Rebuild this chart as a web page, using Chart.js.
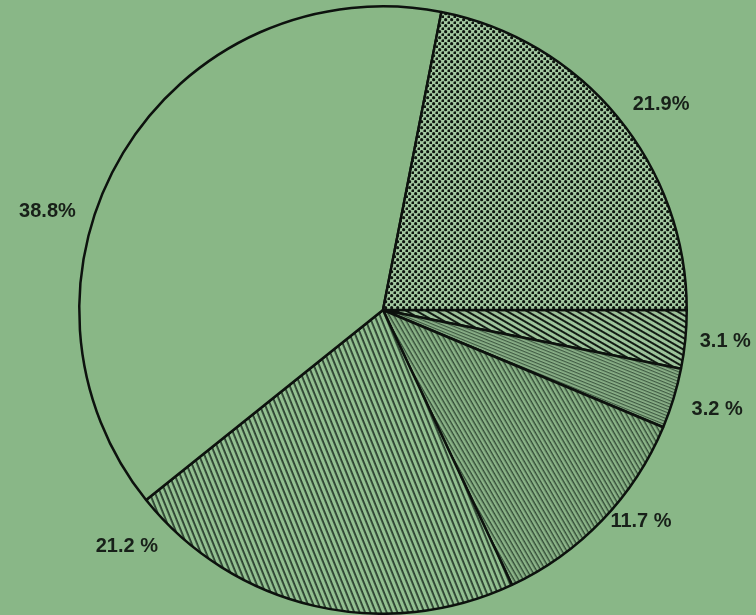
<!DOCTYPE html>
<html>
<head>
<meta charset="utf-8">
<script src="https://cdn.jsdelivr.net/npm/chart.js@4/dist/chart.umd.min.js"></script>
<style>
  html, body { margin: 0; padding: 0; background: #89b787; }
  #wrap { width: 756px; height: 615px; position: relative; }
</style>
</head>
<body>
<div id="wrap"><canvas id="pie"></canvas></div>
<script>
// slices clockwise from 3 o'clock
const labels = ['3.1 %', '3.2 %', '11.7 %', '21.2 %', '38.8%', '21.9%'];
const shares = [3.1, 3.2, 11.7, 21.2, 38.8, 21.9];

const INK = '#121a14';

function stripes(angle, gap, width, color, bg) {
	const c = document.createElement('canvas');
	c.width = 8; c.height = gap;
	const g = c.getContext('2d');
	g.fillStyle = bg; g.fillRect(0, 0, 8, gap);
	g.fillStyle = color; g.fillRect(0, 0, 8, width);
	const p = g.createPattern(c, 'repeat');
	p.setTransform(new DOMMatrix().rotate(angle));
	return p;
}

function dots(step, r, color, bg) {
	const c = document.createElement('canvas');
	c.width = step * 2; c.height = step * 2;
	const g = c.getContext('2d');
	g.fillStyle = bg; g.fillRect(0, 0, c.width, c.height);
	g.fillStyle = color;
	[[step / 2, step / 2], [step * 1.5, step * 1.5]].forEach(([x, y]) => {
		g.beginPath(); g.arc(x, y, r, 0, Math.PI * 2); g.fill();
	});
	return g.createPattern(c, 'repeat');
}

const fills = [
	stripes(30, 5, 2, INK, '#9cc29a'),
	stripes(22, 3, 1.2, '#3f5a42', '#8db38a'),
	stripes(60, 4, 1.4, '#324a36', '#8ab487'),
	stripes(68, 5.5, 1.8, '#2a3f2f', '#93c091'),
	'#89b786',
	dots(3.3, 1.6, '#0e150f', '#a3c9a0'),
];

// label placement: angle shift (deg) from slice middle, distance past the rim
const shift = [-0.3, -0.3, -4.4, 34.2, -14.8, 3.0];
const past = [40, 45, 30, 45, 46, 42];

const outsideLabels = {
	id: 'outsideLabels',
	afterDatasetsDraw(chart) {
		const ctx = chart.ctx;
		const arcs = chart.getDatasetMeta(0).data;
		ctx.save();
		ctx.font = 'bold 20px "Liberation Sans", Arial, sans-serif';
		ctx.fillStyle = '#182019';
		ctx.textAlign = 'center';
		ctx.textBaseline = 'middle';
		arcs.forEach((a, i) => {
			const mid = (a.startAngle + a.endAngle) / 2 + shift[i] * Math.PI / 180;
			const r = a.outerRadius + past[i];
			ctx.fillText(labels[i], a.x + Math.cos(mid) * r, a.y + Math.sin(mid) * r);
		});
		ctx.restore();
	}
};

new Chart(document.getElementById('pie'), {
	type: 'pie',
	data: {
		labels: labels,
		datasets: [{
			data: shares,
			backgroundColor: fills,
			borderColor: '#0d120e',
			borderWidth: 2.5,
		}]
	},
	options: {
		responsive: true,
		maintainAspectRatio: false,
		animation: false,
		rotation: 90,
		layout: { padding: { left: 78, right: 68, top: 5, bottom: 0 } },
		plugins: {
			legend: { display: false },
			tooltip: { enabled: false },
		},
	},
	plugins: [outsideLabels],
});
</script>
</body>
</html>
